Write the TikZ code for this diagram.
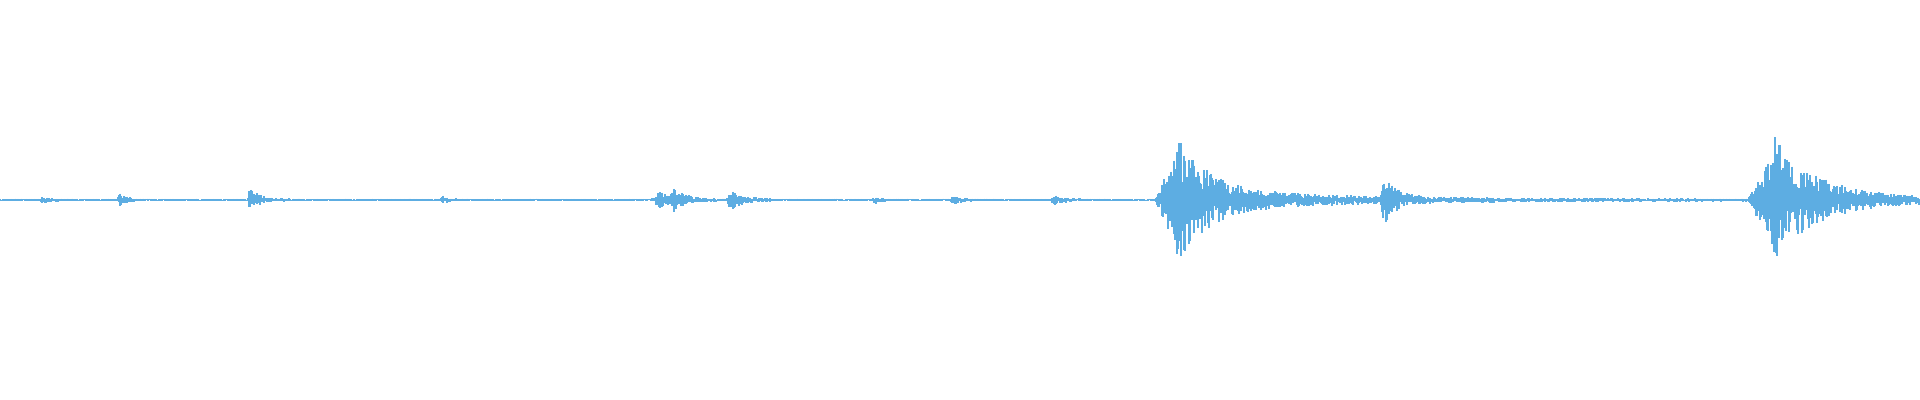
\documentclass[tikz,border=0pt]{standalone}
\begin{document}
\begin{tikzpicture}[x=0.5pt,y=0.5pt,
  declare function={ev(\x,\s,\p,\a,\d)=\a*(\x>=\s)*min((\x-\s)/(\p-\s),1)*exp(-min(max(\x-\p,0)/\d,20));},
  wave/.style={draw={rgb,255:red,93;green,173;blue,226},line width=0.55pt}]
\useasboundingbox (0,0) rectangle (1920,400);
\pgfmathsetseed{7}
\foreach \x in {0,...,1919}{
  \pgfmathsetmacro\e{1.3+ev(\x,40,43,3,8)+ev(\x,117,120,7,6)+ev(\x,247,250,12,10)+ev(\x,440,443,3,6)+ev(\x,650,660,7,15)+ev(\x,670,673,9,12)+ev(\x,726,731,10,12)+ev(\x,872,875,3,6)+ev(\x,950,954,4,8)+ev(\x,1050,1053,5,10)+ev(\x,1155,1179,52,28)+ev(\x,1176,1179,24,4)+ev(\x,1179,1200,10,150)+ev(\x,1380,1384,22,12)+ev(\x,1748,1776,52,32)+ev(\x,1773,1776,22,4)+ev(\x,1776,1800,11,90)}
  \pgfmathsetmacro\u{\e*(0.2+0.8*rnd)}
  \pgfmathsetmacro\d{\e*(0.2+0.8*rnd)}
  \draw[wave] (\x,200+\u) -- (\x,200-\d);
}
\end{tikzpicture}
\end{document}
